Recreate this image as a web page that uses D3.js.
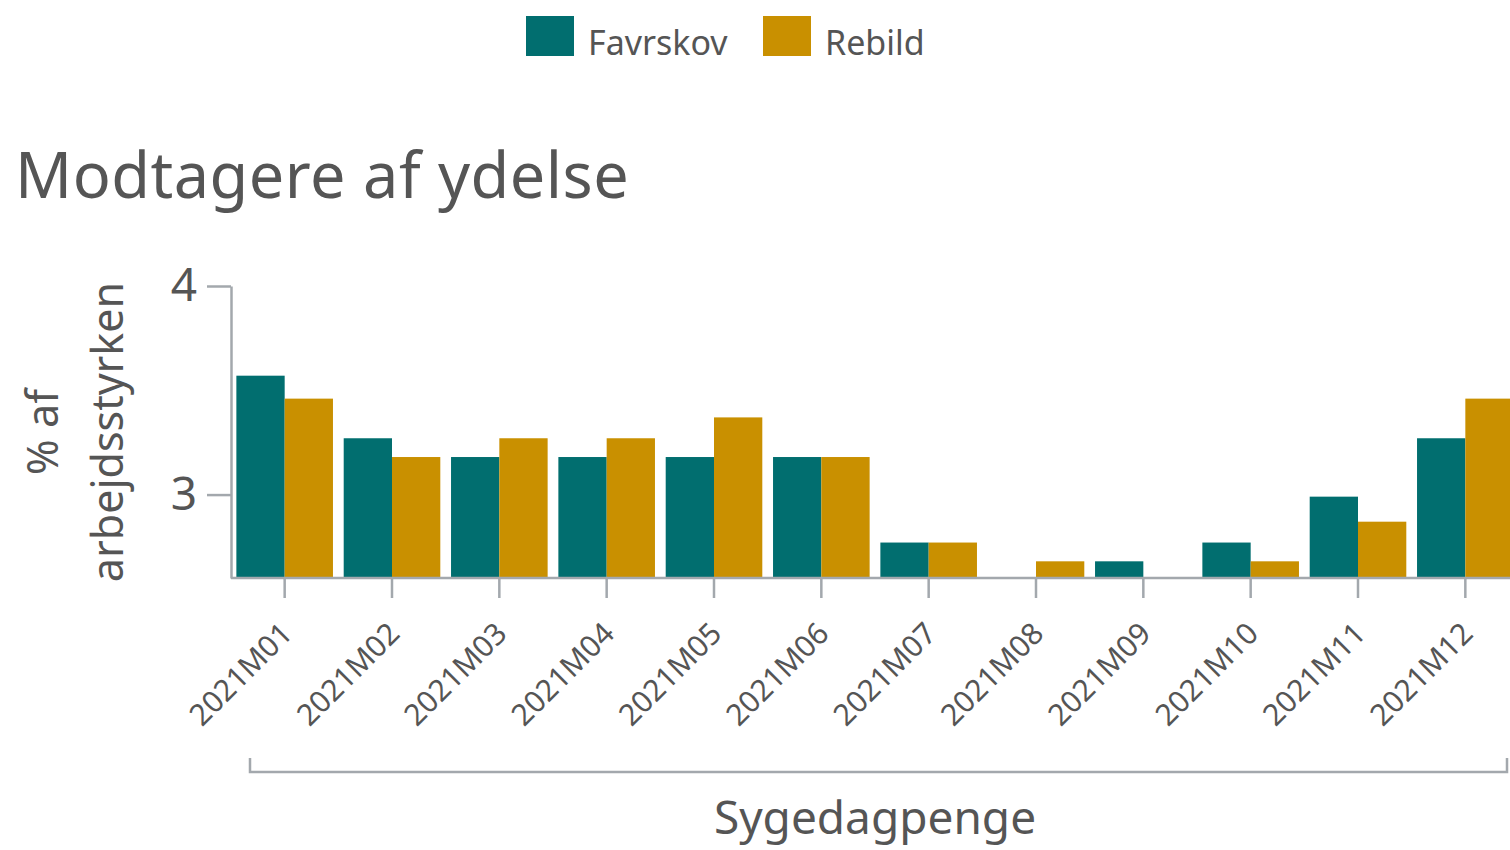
<!DOCTYPE html>
<meta charset="utf-8">
<script src="https://d3js.org/d3.v7.min.js"></script>
<style>
  body { margin: 0; background: #fff; }
  text { font-family: "Noto Sans", "Open Sans", sans-serif; fill: #555; }
</style>
<svg id="chart" width="1510" height="850"></svg>
<script>
  // data
  const months = ["2021M01","2021M02","2021M03","2021M04","2021M05","2021M06",
                  "2021M07","2021M08","2021M09","2021M10","2021M11","2021M12"];
  const favrskov = [3.57, 3.27, 3.18, 3.18, 3.18, 3.18, 2.77, 2.6, 2.68, 2.77, 2.99, 3.27];
  const rebild   = [3.46, 3.18, 3.27, 3.27, 3.37, 3.18, 2.77, 2.68, 2.6, 2.68, 2.87, 3.46];
  const seriesNames = ["Favrskov", "Rebild"];
  const colors = ["#016e6f", "#c99000"];
  const yTicks = [3, 4];

  const svg = d3.select("#chart");
  const axisColor = "#a3a8ad";

  const x = d3.scaleBand().domain(months).range([231, 1519]).paddingInner(0.1).paddingOuter(0.05);
  const xs = d3.scaleBand().domain(seriesNames).range([0, x.bandwidth()]);
  const y = d3.scaleLinear().domain([2.6, 4]).range([578, 286]);

  const rows = months.map((m, i) => ({ month: m, values: [favrskov[i], rebild[i]] }));

  // bars
  const groups = svg.append("g").selectAll("g")
    .data(rows).enter().append("g")
      .attr("transform", d => "translate(" + x(d.month) + ",0)");
  groups.selectAll("rect")
    .data(d => d.values.map((v, k) => ({ name: seriesNames[k], v: v, k: k })))
    .enter().append("rect")
      .attr("x", d => xs(d.name))
      .attr("width", xs.bandwidth())
      .attr("y", d => y(d.v))
      .attr("height", d => y(2.6) - y(d.v))
      .attr("fill", d => colors[d.k]);

  // y axis
  const yAxis = svg.append("g")
    .attr("transform", "translate(231,0)")
    .call(d3.axisLeft(y).tickValues(yTicks).tickFormat(d3.format("d"))
      .tickSize(24).tickSizeOuter(0).tickPadding(10));
  yAxis.select(".domain").attr("stroke", axisColor).attr("stroke-width", 2.5);
  yAxis.selectAll(".tick line").attr("stroke", axisColor).attr("stroke-width", 2.5);
  yAxis.selectAll(".tick text").style("font-size", "46px").attr("fill", "#555")
    .style("font-family", "'Noto Sans', sans-serif");

  // x axis
  const xAxis = svg.append("g")
    .attr("transform", "translate(0,578)")
    .call(d3.axisBottom(x).tickSize(20).tickSizeOuter(0).tickPadding(8));
  xAxis.select(".domain").attr("stroke", axisColor).attr("stroke-width", 2.5)
    .attr("d", "M231,0H1510");
  xAxis.selectAll(".tick line").attr("stroke", axisColor).attr("stroke-width", 2.5);
  xAxis.selectAll(".tick text")
    .style("font-size", "30px").attr("fill", "#555")
    .style("font-family", "'Noto Sans', sans-serif")
    .attr("text-anchor", "end")
    .attr("dy", "0.35em")
    .attr("transform", "translate(2,50) rotate(-45)")
    .attr("y", 0).attr("x", 0);

  // bracket for category group
  svg.append("path")
    .attr("d", "M250,758V772H1507V758")
    .attr("fill", "none").attr("stroke", axisColor).attr("stroke-width", 2.5);
  svg.append("text")
    .attr("x", 875).attr("y", 834)
    .attr("text-anchor", "middle")
    .style("font-size", "46px")
    .text("Sygedagpenge");

  // y axis title
  const yt = svg.append("text")
    .attr("transform", "translate(0,432) rotate(-90)")
    .attr("text-anchor", "middle")
    .style("font-size", "43px");
  yt.append("tspan").attr("x", 0).attr("y", 58).text("% af");
  yt.append("tspan").attr("x", 0).attr("y", 123).text("arbejdsstyrken");

  // title
  svg.append("text")
    .attr("x", 15).attr("y", 198)
    .style("font-size", "63px")
    .style("letter-spacing", "0.5px")
    .text("Modtagere af ydelse");

  // legend
  const legendX = [526, 763];
  const leg = svg.append("g").selectAll("g")
    .data(seriesNames).enter().append("g")
      .attr("transform", (d, i) => "translate(" + legendX[i] + ",16)");
  leg.append("rect").attr("width", 48).attr("height", 40)
    .attr("fill", (d, i) => colors[i]);
  leg.append("text").attr("x", 62).attr("y", 39)
    .style("font-size", "34px")
    .text(d => d);
</script>
